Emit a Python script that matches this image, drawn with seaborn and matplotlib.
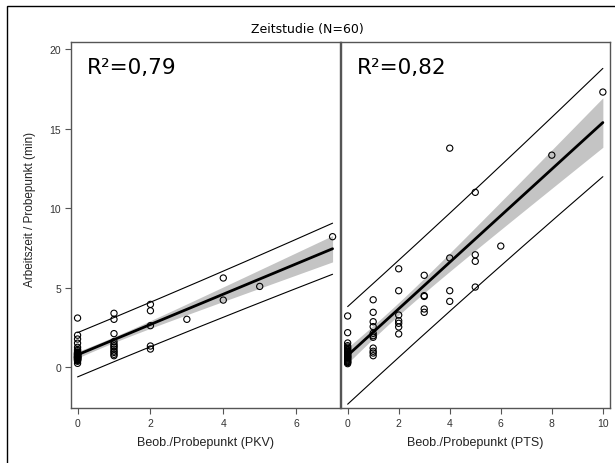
import numpy as np
import pandas as pd
import matplotlib
matplotlib.use("Agg")
import matplotlib.pyplot as plt
import seaborn as sns
from matplotlib.patches import Rectangle

# ---------------- data ----------------
title = "Zeitstudie (N=60)"
ylabel = "Arbeitszeit / Probepunkt (min)"
xlabel_pkv = "Beob./Probepunkt (PKV)"
xlabel_pts = "Beob./Probepunkt (PTS)"
r2_pkv = "R²=0,79"
r2_pts = "R²=0,82"

pkv_x = [0] * 38 + [1] * 12 + [2] * 5 + [3] + [4, 4] + [5] + [7]
pkv_y = [3.08, 2.00, 1.76, 1.50, 1.24, 1.03, 0.82, 0.67, 0.50, 0.36, 0.23,
         1.10, 0.95, 0.90, 0.85, 0.78, 0.72, 0.70, 0.65, 0.62, 0.60, 0.58,
         0.55, 0.52, 0.48, 0.45, 0.42, 0.90, 0.85, 0.80, 0.75, 0.70, 0.65,
         0.60, 0.55, 0.45, 0.60, 0.80,
         3.38, 3.00, 2.10, 1.60, 1.45, 1.34, 1.25, 1.13, 1.00, 0.92, 0.80, 0.71,
         3.94, 3.54, 2.60, 1.32, 1.13,
         3.00,
         5.60, 4.21,
         5.07,
         8.20]

pts_x = [0] * 26 + [1] * 11 + [2] * 7 + [3] * 5 + [4] * 4 + [5] * 4 + [6] + [8] + [10]
pts_y = [3.21, 2.16, 1.51, 1.34, 1.17, 1.00, 0.84, 0.67, 0.50, 0.34, 0.21,
         1.25, 1.10, 0.95, 0.90, 0.75, 0.70, 0.60, 0.55, 0.45, 0.40, 0.30,
         0.28, 0.62, 0.80, 1.05,
         4.23, 3.44, 2.85, 2.54, 2.12, 1.97, 1.87, 1.19, 0.99, 0.88, 0.71,
         6.18, 4.80, 3.27, 2.91, 2.75, 2.52, 2.08,
         5.77, 4.49, 4.44, 3.65, 3.44,
         13.77, 6.86, 4.80, 4.13,
         10.99, 7.06, 6.65, 5.03,
         7.61,
         13.33,
         17.30]

# ---------------- style ----------------
sns.set_theme(style="white")
plt.rcParams['font.family'] = ['Liberation Sans', 'DejaVu Sans']

fig = plt.figure(figsize=(6.15, 4.64), dpi=100)
W, H = 615, 464
def ax_rect(x0, x1, y0, y1):
    return [x0 / W, 1 - y1 / H, (x1 - x0) / W, (y1 - y0) / H]

ax1 = fig.add_axes(ax_rect(71, 339.5, 43, 409))
ax2 = fig.add_axes(ax_rect(340.5, 609.5, 43, 409))

spine_col = "#555555"

def panel(ax, xs, ys, r2, xlabel, xlim, xticks):
    df = pd.DataFrame({"x": xs, "y": ys})
    x = df["x"].to_numpy(float)
    y = df["y"].to_numpy(float)
    n = len(x)
    b1, b0 = np.polyfit(x, y, 1)
    resid = y - (b0 + b1 * x)
    s = np.sqrt(np.sum(resid ** 2) / (n - 2))
    xbar = x.mean()
    sxx = np.sum((x - xbar) ** 2)
    t = 2.0017
    xg = np.linspace(x.min(), x.max(), 200)
    fit = b0 + b1 * xg
    se_m = s * np.sqrt(1 / n + (xg - xbar) ** 2 / sxx)
    se_p = s * np.sqrt(1 + 1 / n + (xg - xbar) ** 2 / sxx)
    ax.fill_between(xg, fit - t * se_m, fit + t * se_m, color="#c4c4c4",
                    lw=0, zorder=1)
    ax.plot(xg, fit + t * se_p, color="black", lw=0.8, zorder=2)
    ax.plot(xg, fit - t * se_p, color="black", lw=0.8, zorder=2)
    sns.regplot(data=df, x="x", y="y", ax=ax, ci=None, color="black",
                scatter_kws=dict(facecolors="none", edgecolors="black",
                                 s=20, linewidths=0.8, alpha=1, zorder=4),
                line_kws=dict(lw=2.0, zorder=3))
    ax.set_xlim(*xlim)
    ax.set_ylim(-2.58, 20.45)
    ax.set_xticks(xticks)
    ax.set_xlabel(xlabel, fontsize=9, color="#222222", labelpad=6)
    ax.set_ylabel("")
    ax.text(0.06, 0.915, r2, transform=ax.transAxes, fontsize=15.5,
            family="DejaVu Sans", color="black", va="baseline")
    for sp in ax.spines.values():
        sp.set_color(spine_col)
        sp.set_linewidth(1.0)
    ax.tick_params(axis="both", direction="out", length=4.5, width=0.8,
                   color=spine_col, labelsize=7.5, labelcolor="#333333",
                   pad=2.5, bottom=True, left=True)

panel(ax1, pkv_x, pkv_y, r2_pkv, xlabel_pkv, (-0.18, 7.19), [0, 2, 4, 6])
panel(ax2, pts_x, pts_y, r2_pts, xlabel_pts, (-0.28, 10.26), [0, 2, 4, 6, 8, 10])

ax1.set_yticks([0, 5, 10, 15, 20])
ax2.set_yticks([])
ax2.tick_params(axis="y", left=False, labelleft=False)

fig.text(30 / W, 1 - 209 / H, ylabel, rotation=90, ha="center", va="center",
         fontsize=8.5, color="#222222")

fig.text(0.5, 1 - 30 / H, title, ha="center", va="center", fontsize=9,
         family="DejaVu Sans", color="black")

fig.patches.append(Rectangle((7 / W, -0.05), 1.2, 1 - 7 / H + 0.05,
                             transform=fig.transFigure, fill=False,
                             edgecolor="black", lw=1.0))

fig.savefig("out.png", dpi=100)
